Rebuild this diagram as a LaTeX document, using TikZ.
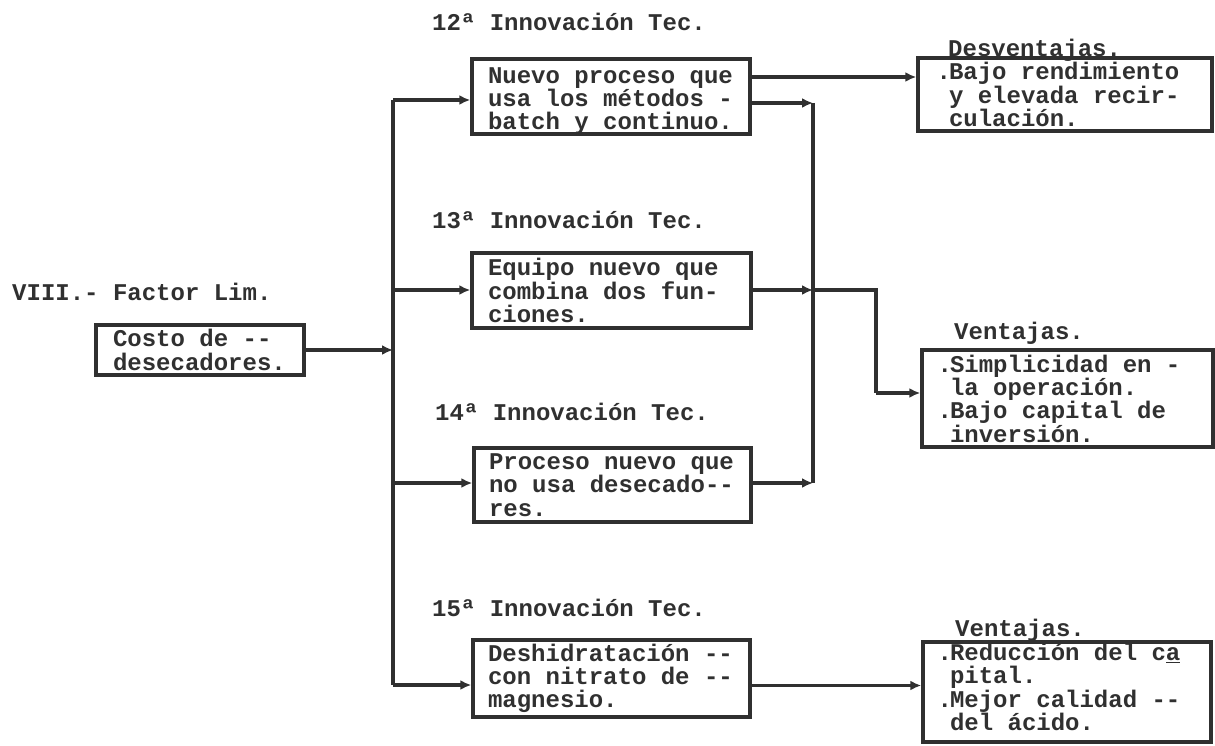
\documentclass[tikz,border=0pt]{standalone}
\usepackage{fontspec}
\setmonofont{Liberation Mono}
\usetikzlibrary{arrows.meta}
\definecolor{ink}{HTML}{303030}
\newcommand\tw{\fontsize{24}{23.3}\selectfont\ttfamily\bfseries}
\newcommand\hd{\makebox[0pt][r]{.\kern-2pt}}
\tikzset{
  tbox/.style={draw=ink, line width=3.4pt, rectangle, inner ysep=0pt, align=flush left, font=\tw, text=ink},
  lbl/.style={anchor=west, inner sep=0pt, font=\tw, text=ink},
  conn/.style={draw=ink, line width=3.4pt},
  arr/.style={conn, -{Latex[length=11pt,width=10pt]}}
}
\begin{document}
\begin{tikzpicture}[x=1pt,y=-1pt]
\useasboundingbox (0,0) rectangle (1215,746);

% labels
\node[lbl] (lim) at (12,292) {VIII.- Factor Lim.};
\node[lbl] (l12) at (432,22) {12ª Innovación Tec.};
\node[lbl] (l13) at (432,220) {13ª Innovación Tec.};
\node[lbl] (l14) at (435,412) {14ª Innovación Tec.};
\node[lbl] (l15) at (432,608) {15ª Innovación Tec.};
\node[lbl] (ld) at (948,50) {Desventajas.};
\node[lbl] (lv1) at (954,333) {Ventajas.};
\node[lbl] (lv2) at (955,630) {Ventajas.};

% boxes
\node[tbox, minimum width=208pt, minimum height=50pt, text width=174pt, inner xsep=17pt] (costo) at (200,350) {Costo de --\\desecadores.};
\node[tbox, minimum width=278pt, minimum height=75pt, text width=246pt, inner xsep=16pt] (b12) at (611,96.5) {Nuevo proceso que\\usa los métodos -\\batch y continuo.\par\vspace{-9pt}};
\node[tbox, minimum width=279pt, minimum height=75pt, text width=247pt, inner xsep=16pt] (b13) at (611.5,290.5) {Equipo nuevo que\\combina dos fun-\\ciones.};
\node[tbox, minimum width=277pt, minimum height=74pt, text width=247pt, inner xsep=15pt] (b14) at (612.5,485) {Proceso nuevo que\\no usa desecado--\\res.};
\node[tbox, minimum width=277pt, minimum height=77pt, text width=247pt, inner xsep=15pt] (b15) at (611.5,678.5) {Deshidratación --\\con nitrato de --\\magnesio.};
\node[tbox, minimum width=294pt, minimum height=73pt, text width=232pt, inner xsep=31pt] (des) at (1065,94.5) {\hd Bajo rendimiento\\y elevada recir-\\culación.};
\node[tbox, minimum width=291pt, minimum height=97pt, text width=235pt, inner xsep=28pt] (ven1) at (1067.5,398.5) {\hd Simplicidad en -\\la operación.\\\hd Bajo capital de\\inversión.};
\node[tbox, minimum width=288pt, minimum height=100pt, text width=234pt, inner xsep=27pt] (ven2) at (1067,692) {\hd Reducción del c\underline{a}\\pital.\\\hd Mejor calidad --\\del ácido.\par\vspace{10pt}};

% trunk
\coordinate (tm) at (393,350);
\coordinate (t12) at (393,100);
\coordinate (t13) at (393,290);
\coordinate (t14) at (393,483);
\coordinate (t15) at (393,685);
\draw[arr] (costo.east) -- (tm);
\draw[conn] (t12) -- (t15);
\draw[arr] (t12) -- (t12 -| b12.west);
\draw[arr] (t13) -- (t13 -| b13.west);
\draw[arr] (t14) -- (t14 -| b14.west);
\draw[arr] (t15) -- (t15 -| b15.west);

% right side
\coordinate (c1) at (813,103);
\coordinate (c2) at (813,290);
\coordinate (c3) at (813,483);
\coordinate (k1) at (876,290);
\coordinate (k2) at (876,393);
\draw[arr] ([yshift=19.5pt]b12.east) -- ([yshift=19.5pt]b12.east -| des.west);
\draw[arr] (c1 -| b12.east) -- (c1);
\draw[conn] (c1) -- (c3);
\draw[arr] (c2 -| b13.east) -- (c2);
\draw[arr] (c3 -| b14.east) -- (c3);
\draw[conn] (c2) -- (k1) -- (k2);
\draw[arr] (k2) -- (k2 -| ven1.west);
\draw[arr] ([yshift=-7pt]b15.east) -- ([yshift=-7pt]b15.east -| ven2.west);
\end{tikzpicture}
\end{document}
